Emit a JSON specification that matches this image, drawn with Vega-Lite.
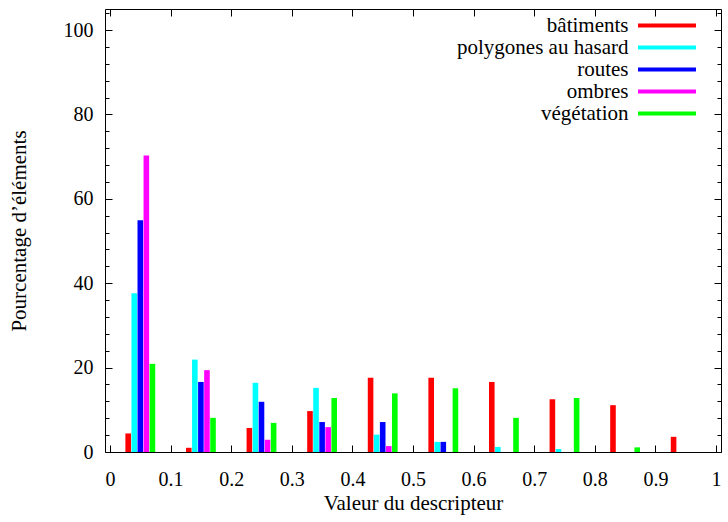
{
  "$schema": "https://vega.github.io/schema/vega-lite/v6.json",
  "width": 616,
  "height": 443,
  "autosize": {"type": "none"},
  "padding": {"left": 105, "top": 9, "right": 7, "bottom": 70},
  "background": "white",
  "config": {
    "view": {"stroke": "black", "strokeWidth": 1},
    "font": "Liberation Serif",
    "axis": {"grid": false, "domain": false, "tickColor": "black", "labelColor": "black", "titleColor": "black", "labelFont": "Liberation Serif", "titleFont": "Liberation Serif", "labelFontSize": 20, "titleFontSize": 21, "titleFontWeight": "normal"}
  },
  "data": {"values": [
    {"s": "bâtiments", "x": 0.03, "v": 4.4},
    {"s": "polygones au hasard", "x": 0.04, "v": 37.6},
    {"s": "routes", "x": 0.05, "v": 54.9},
    {"s": "ombres", "x": 0.06, "v": 70.3},
    {"s": "végétation", "x": 0.07, "v": 20.9},
    {"s": "bâtiments", "x": 0.13, "v": 1.0},
    {"s": "polygones au hasard", "x": 0.14, "v": 21.9},
    {"s": "routes", "x": 0.15, "v": 16.6},
    {"s": "ombres", "x": 0.16, "v": 19.4},
    {"s": "végétation", "x": 0.17, "v": 8.1},
    {"s": "bâtiments", "x": 0.23, "v": 5.7},
    {"s": "polygones au hasard", "x": 0.24, "v": 16.4},
    {"s": "routes", "x": 0.25, "v": 11.9},
    {"s": "ombres", "x": 0.26, "v": 2.9},
    {"s": "végétation", "x": 0.27, "v": 6.9},
    {"s": "bâtiments", "x": 0.33, "v": 9.7},
    {"s": "polygones au hasard", "x": 0.34, "v": 15.2},
    {"s": "routes", "x": 0.35, "v": 7.1},
    {"s": "ombres", "x": 0.36, "v": 5.9},
    {"s": "végétation", "x": 0.37, "v": 12.8},
    {"s": "bâtiments", "x": 0.43, "v": 17.6},
    {"s": "polygones au hasard", "x": 0.44, "v": 4.1},
    {"s": "routes", "x": 0.45, "v": 7.1},
    {"s": "ombres", "x": 0.46, "v": 1.4},
    {"s": "végétation", "x": 0.47, "v": 13.9},
    {"s": "bâtiments", "x": 0.53, "v": 17.6},
    {"s": "polygones au hasard", "x": 0.54, "v": 2.4},
    {"s": "routes", "x": 0.55, "v": 2.4},
    {"s": "ombres", "x": 0.56, "v": 0},
    {"s": "végétation", "x": 0.57, "v": 15.1},
    {"s": "bâtiments", "x": 0.63, "v": 16.6},
    {"s": "polygones au hasard", "x": 0.64, "v": 1.2},
    {"s": "routes", "x": 0.65, "v": 0},
    {"s": "ombres", "x": 0.66, "v": 0},
    {"s": "végétation", "x": 0.67, "v": 8.1},
    {"s": "bâtiments", "x": 0.73, "v": 12.5},
    {"s": "polygones au hasard", "x": 0.74, "v": 0.7},
    {"s": "routes", "x": 0.75, "v": 0},
    {"s": "ombres", "x": 0.76, "v": 0},
    {"s": "végétation", "x": 0.77, "v": 12.8},
    {"s": "bâtiments", "x": 0.83, "v": 11.1},
    {"s": "polygones au hasard", "x": 0.84, "v": 0},
    {"s": "routes", "x": 0.85, "v": 0},
    {"s": "ombres", "x": 0.86, "v": 0},
    {"s": "végétation", "x": 0.87, "v": 1.1},
    {"s": "bâtiments", "x": 0.93, "v": 3.6},
    {"s": "polygones au hasard", "x": 0.94, "v": 0},
    {"s": "routes", "x": 0.95, "v": 0},
    {"s": "ombres", "x": 0.96, "v": 0},
    {"s": "végétation", "x": 0.97, "v": 0}
  ]},
  "encoding": {
    "x": {"field": "x", "type": "quantitative", "scale": {"domain": [0, 1], "nice": false, "zero": false}},
    "y": {"field": "v", "type": "quantitative", "scale": {"domain": [0, 105], "nice": false}}
  },
  "layer": [
    {
      "mark": {"type": "bar", "width": 5.6, "orient": "vertical"},
      "encoding": {
        "x": {"field": "x", "type": "quantitative", "axis": {"orient": "bottom", "values": [0, 0.1, 0.2, 0.3, 0.4, 0.5, 0.6, 0.7, 0.8, 0.9, 1], "format": "~g", "tickSize": -7, "labelPadding": 24, "title": "Valeur du descripteur", "titlePadding": 3, "labelFlush": false}},
        "y": {"field": "v", "type": "quantitative", "axis": {"orient": "left", "values": [0, 20, 40, 60, 80, 100], "tickSize": -7, "labelPadding": 19, "title": "Pourcentage d’éléments", "titlePadding": 34}},
        "color": {"field": "s", "type": "nominal", "scale": {"domain": ["bâtiments", "polygones au hasard", "routes", "ombres", "végétation"], "range": ["#ff0000", "#00ffff", "#0000ff", "#ff00ff", "#00ff00"]},
          "legend": {"orient": "none", "legendX": 551.5, "legendY": 6, "title": null, "symbolType": "M-2.76,-0.2L2.76,-0.2L2.76,0.2L-2.76,0.2Z", "symbolSize": 441, "symbolStrokeWidth": 0, "symbolOpacity": 1, "labelAlign": "right", "labelOffset": -49, "labelFont": "Liberation Serif", "labelFontSize": 21, "labelColor": "black", "rowPadding": 0, "padding": 0, "labelLimit": 300}}
      }
    },
    {
      "mark": {"type": "bar", "opacity": 0},
      "encoding": {
        "x": {"field": "x", "type": "quantitative", "axis": {"orient": "top", "values": [0, 0.1, 0.2, 0.3, 0.4, 0.5, 0.6, 0.7, 0.8, 0.9, 1], "tickSize": -7, "labels": false, "title": null}},
        "y": {"field": "v", "type": "quantitative", "axis": {"orient": "right", "values": [0, 20, 40, 60, 80, 100], "tickSize": -7, "labels": false, "title": null}}
      }
    },
    {
      "mark": {"type": "bar", "opacity": 0},
      "encoding": {
        "x": {"field": "x", "type": "quantitative", "axis": null},
        "y": {"field": "v", "type": "quantitative", "axis": {"orient": "left", "values": [4, 8, 12, 16, 24, 28, 32, 36, 44, 48, 52, 56, 64, 68, 72, 76, 84, 88, 92, 96, 104], "tickSize": -4, "labels": false, "title": null}}
      }
    },
    {
      "mark": {"type": "bar", "opacity": 0},
      "encoding": {
        "x": {"field": "x", "type": "quantitative", "axis": null},
        "y": {"field": "v", "type": "quantitative", "axis": {"orient": "right", "values": [4, 8, 12, 16, 24, 28, 32, 36, 44, 48, 52, 56, 64, 68, 72, 76, 84, 88, 92, 96, 104], "tickSize": -4, "labels": false, "title": null}}
      }
    }
  ],
  "resolve": {"axis": {"x": "independent", "y": "independent"}}
}
